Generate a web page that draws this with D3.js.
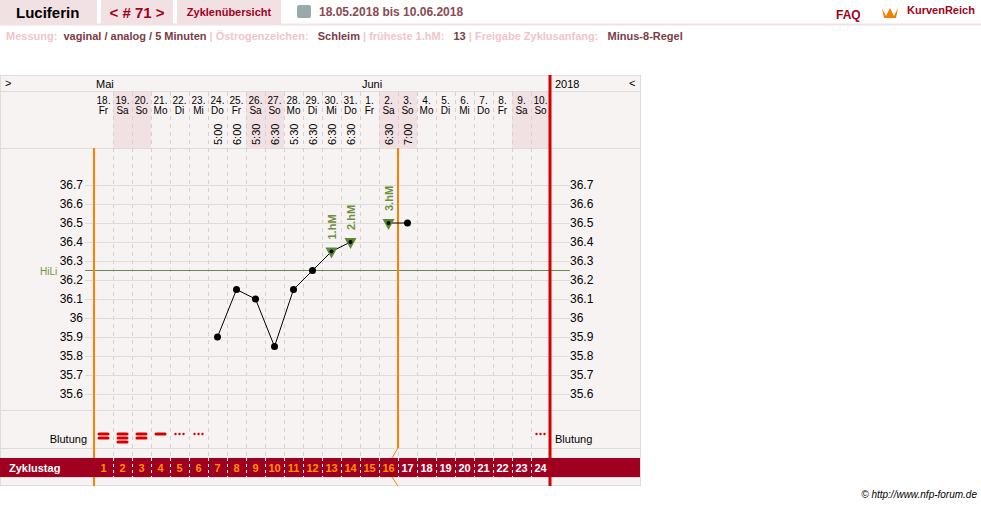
<!DOCTYPE html>
<html><head><meta charset="utf-8">
<script src="https://cdn.jsdelivr.net/npm/d3@7"></script>
<style>
body{margin:0;background:#fff;font-family:"Liberation Sans",Arial,sans-serif;}
svg text{font-family:"Liberation Sans",Arial,sans-serif;}
</style></head><body>
<svg width="981" height="506"></svg>
<script>
// chart data
const dates = ["18.","19.","20.","21.","22.","23.","24.","25.","26.","27.","28.","29.","30.","31.","1.","2.","3.","4.","5.","6.","7.","8.","9.","10."];
const weekdays = ["Fr","Sa","So","Mo","Di","Mi","Do","Fr","Sa","So","Mo","Di","Mi","Do","Fr","Sa","So","Mo","Di","Mi","Do","Fr","Sa","So"];
const times = [null,null,null,null,null,null,"5:00","6:00","5:30","6:30","5:30","6:30","6:30","6:30",null,"6:30","7:00",null,null,null,null,null,null,null];
const temps = [null,null,null,null,null,null,35.9,36.15,36.1,35.85,36.15,36.25,36.35,36.4,null,36.5,36.5,null,null,null,null,null,null,null];
const peaks = [{day: 12, label: "1.hM"}, {day: 13, label: "2.hM"}, {day: 15, label: "3.hM"}];
const bleeding = [2,3,2,1,"d","d",0,0,0,0,0,0,0,0,0,0,0,0,0,0,0,0,0,"d"];
const tempTicks = [36.7,36.6,36.5,36.4,36.3,36.2,36.1,36,35.9,35.8,35.7,35.6];
const coverline = 36.25;

const svg = d3.select("svg");
const days = d3.range(dates.length);
const x = d3.scaleBand().domain(days).range([94, 550]);
const y = d3.scaleLinear().domain([35.6, 36.7]).range([394, 185]);
const bw = x.bandwidth();
const isWeekend = d => weekdays[d] === "Sa" || weekdays[d] === "So";

// top bar
const head = svg.append("g");
head.append("rect").attr("x", 0).attr("y", 0).attr("width", 97).attr("height", 24).attr("fill", "#f2e1e3");
head.append("rect").attr("x", 101).attr("y", 0).attr("width", 72).attr("height", 24).attr("fill", "#f2e1e3");
head.append("rect").attr("x", 177).attr("y", 0).attr("width", 104).attr("height", 24).attr("fill", "#f2e1e3");
head.append("line").attr("x1", 0).attr("x2", 981).attr("y1", 24.5).attr("y2", 24.5).attr("stroke", "#f2e1e3").attr("stroke-width", 2);
head.append("text").attr("x", 16).attr("y", 18).attr("font-size", 15).attr("font-weight", "bold").attr("fill", "#000").text("Luciferin");
head.append("text").attr("x", 137).attr("y", 18).attr("text-anchor", "middle").attr("font-size", 15).attr("font-weight", "bold").attr("fill", "#a00020").text("< # 71 >");
head.append("text").attr("x", 229).attr("y", 16).attr("text-anchor", "middle").attr("font-size", 11).attr("font-weight", "bold").attr("fill", "#a00020").text("Zyklenübersicht");
head.append("rect").attr("x", 297).attr("y", 5).attr("width", 14).attr("height", 13).attr("fill", "#9aa").attr("rx", 2);
head.append("text").attr("x", 319).attr("y", 16).attr("font-size", 12).attr("font-weight", "bold").attr("fill", "#8a4a55").text("18.05.2018 bis 10.06.2018");
head.append("text").attr("x", 836).attr("y", 19).attr("font-size", 12).attr("font-weight", "bold").attr("fill", "#a00020").text("FAQ");
head.append("text").attr("x", 907).attr("y", 14).attr("font-size", 11).attr("font-weight", "bold").attr("fill", "#a00020").text("KurvenReich");
head.append("path").attr("d", "M882,8 L886,16 L890,8 L894,16 L898,8 L896,18 L884,18 Z").attr("fill", "#f08000");

const info = svg.append("text").attr("y", 40).attr("font-size", 11).attr("font-weight", "bold");
[["Messung:  ", "#f2c4c9"], ["vaginal / analog / 5 Minuten", "#7a3c47"], [" | Östrogenzeichen:   ", "#f2c4c9"], ["Schleim", "#7a3c47"], [" | früheste 1.hM:   ", "#f2c4c9"], ["13", "#7a3c47"], [" | Freigabe Zyklusanfang:   ", "#f2c4c9"], ["Minus-8-Regel", "#7a3c47"]]
  .forEach(([t, c], i) => info.append("tspan").attr("x", i === 0 ? 6 : null).attr("fill", c).attr("xml:space", "preserve").text(t));

// chart frame
const ch = svg.append("g");
ch.append("rect").attr("x", 0.5).attr("y", 75.5).attr("width", 640).attr("height", 410).attr("fill", "#f8f3f3").attr("stroke", "#ddd");
[91, 148, 410, 448, 477].forEach(v => ch.append("line").attr("x1", 0).attr("x2", 640).attr("y1", v + 0.5).attr("y2", v + 0.5).attr("stroke", "#ddd"));

// weekend shading in header
ch.selectAll(".we").data(days.filter(isWeekend)).enter().append("rect")
  .attr("x", d => x(d)).attr("y", 92).attr("width", bw).attr("height", 56).attr("fill", "#f2e1e3");

// vertical dashed day lines
ch.selectAll(".vl").data(d3.range(1, dates.length)).enter().append("line")
  .attr("x1", d => x(d) + 0.5).attr("x2", d => x(d) + 0.5).attr("y1", 92).attr("y2", 477)
  .attr("stroke", "#d6d0d0").attr("stroke-dasharray", "4,4");

// horizontal temp grid
ch.selectAll(".hl").data(tempTicks).enter().append("line")
  .attr("x1", 85).attr("x2", 570).attr("y1", d => Math.round(y(d)) + 0.5).attr("y2", d => Math.round(y(d)) + 0.5)
  .attr("stroke", "#ddd");

// axes labels
ch.selectAll(".tl").data(tempTicks).enter().append("text")
  .attr("x", 83).attr("y", d => y(d) + 4).attr("text-anchor", "end").attr("font-size", 12)
  .attr("font-family", "DejaVu Sans Mono").text(d => d);
ch.selectAll(".tr").data(tempTicks).enter().append("text")
  .attr("x", 570).attr("y", d => y(d) + 4).attr("font-size", 12)
  .attr("font-family", "DejaVu Sans Mono").text(d => d);

// month row
ch.append("text").attr("x", 5).attr("y", 87).attr("font-size", 11).text(">");
ch.append("text").attr("x", 96).attr("y", 88).attr("font-size", 11).text("Mai");
ch.append("text").attr("x", 362).attr("y", 88).attr("font-size", 11).text("Juni");
ch.append("text").attr("x", 555).attr("y", 88).attr("font-size", 11).text("2018");
ch.append("text").attr("x", 629).attr("y", 87).attr("font-size", 11).text("<");

// date header
const hd = ch.selectAll(".hd").data(days).enter().append("g");
hd.append("text").attr("x", d => x(d) + bw / 2).attr("y", 104).attr("text-anchor", "middle").attr("font-size", 10).text(d => dates[d]);
hd.append("text").attr("x", d => x(d) + bw / 2).attr("y", 114).attr("text-anchor", "middle").attr("font-size", 10).text(d => weekdays[d]);
hd.filter(d => times[d]).append("text")
  .attr("transform", d => `translate(${x(d) + bw / 2 + 4},145) rotate(-90)`).attr("font-size", 11).text(d => times[d]);

// coverline
ch.append("line").attr("x1", 85).attr("x2", 570).attr("y1", y(coverline)).attr("y2", y(coverline)).attr("stroke", "#6a8a50");
ch.append("text").attr("x", 40).attr("y", y(coverline) + 4).attr("font-size", 10).attr("fill", "#6a9a40").text("HiLi");

// cycle lines
ch.append("line").attr("x1", 94).attr("x2", 94).attr("y1", 148).attr("y2", 486).attr("stroke", "#ff8000").attr("stroke-width", 2);
const sx = x(16);
ch.append("line").attr("x1", sx).attr("x2", sx).attr("y1", 148).attr("y2", 448).attr("stroke", "#ff8000").attr("stroke-width", 2);
ch.append("line").attr("x1", 550).attr("x2", 550).attr("y1", 75).attr("y2", 486).attr("stroke", "#d40000").attr("stroke-width", 3);

// temperature curve
const line = d3.line().defined(d => temps[d] !== null).x(d => x(d) + bw / 2).y(d => y(temps[d]));
ch.append("path").datum(days).attr("d", line).attr("fill", "none").attr("stroke", "#000");

// peak markers
const pk = ch.selectAll(".pk").data(peaks).enter().append("g")
  .attr("transform", d => `translate(${x(d.day) + bw / 2},${y(temps[d.day])})`);
pk.append("path").attr("d", "M-6,-4 L6,-4 L0,7 Z").attr("fill", "#5a8a30");
pk.append("text").attr("transform", "translate(4,-12) rotate(-90)").attr("font-size", 11).attr("font-weight", "bold").attr("fill", "#6a9040").text(d => d.label);

ch.selectAll(".pt").data(days.filter(d => temps[d] !== null)).enter().append("circle")
  .attr("cx", d => x(d) + bw / 2).attr("cy", d => y(temps[d]))
  .attr("r", d => peaks.some(p => p.day === d) ? 2 : 3.5).attr("fill", "#000");

// bleeding
ch.append("text").attr("x", 87).attr("y", 443).attr("text-anchor", "end").attr("font-size", 11).text("Blutung");
ch.append("text").attr("x", 555).attr("y", 443).attr("font-size", 11).text("Blutung");
days.forEach(d => {
  const b = bleeding[d], cx = x(d) + bw / 2;
  if (b === "d") {
    [-4, 0, 4].forEach(o => ch.append("circle").attr("cx", cx + o).attr("cy", 434).attr("r", 1.2).attr("fill", "#d40000"));
  } else if (b > 0) {
    const rows = b === 1 ? [434] : b === 2 ? [434, 438] : [434, 438, 442];
    rows.forEach(v => ch.append("rect").attr("x", cx - 6).attr("y", v - 1.5).attr("width", 12).attr("height", 3).attr("rx", 1.5).attr("fill", "#d40000"));
  }
});

// cycle day row
ch.append("rect").attr("x", 0).attr("y", 458).attr("width", 640).attr("height", 19).attr("fill", "#a00020");
ch.append("path").attr("d", `M${sx},448 L${sx - 6},458`).attr("stroke", "#ff8000").attr("fill", "none");
ch.append("path").attr("d", `M${sx - 6},477 L${sx},486`).attr("stroke", "#ff8000").attr("fill", "none");
ch.append("text").attr("x", 9).attr("y", 472).attr("font-size", 11).attr("font-weight", "bold").attr("fill", "#fff").text("Zyklustag");
ch.selectAll(".zt").data(days).enter().append("text")
  .attr("x", d => x(d) + bw / 2).attr("y", 472).attr("text-anchor", "middle").attr("font-size", 11).attr("font-weight", "bold")
  .attr("fill", d => d < 16 ? "#ff9000" : "#fff").text(d => d + 1);
ch.selectAll(".zl").data(d3.range(1, dates.length)).enter().append("line")
  .attr("x1", d => x(d) + 0.5).attr("x2", d => x(d) + 0.5).attr("y1", 458).attr("y2", 477)
  .attr("stroke", "#fff").attr("stroke-dasharray", "3,3");

svg.append("text").attr("x", 977).attr("y", 498).attr("text-anchor", "end").attr("font-size", 10).attr("font-style", "italic").text("© http://www.nfp-forum.de");
</script></body></html>
